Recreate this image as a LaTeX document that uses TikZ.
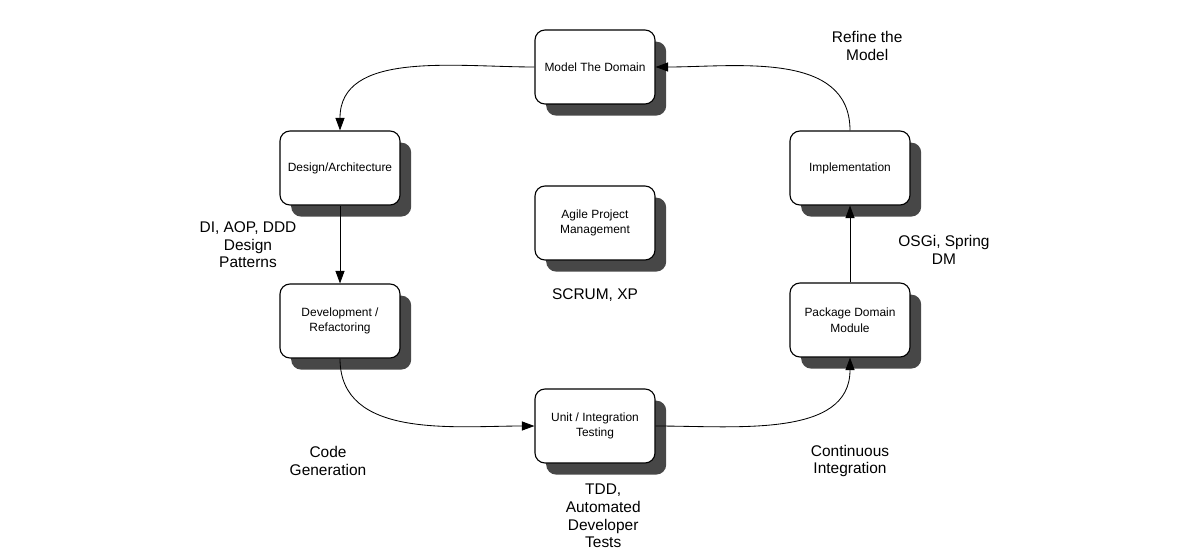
\documentclass[tikz,border=0pt]{standalone}
\usepackage{fontspec}
\setmainfont{Liberation Sans}
\usepackage{tikz}
\usetikzlibrary{arrows.meta,shadows}
\definecolor{shadowgray}{HTML}{474747}

\begin{document}
\begin{tikzpicture}[
  task/.style={draw, thick, fill=white, rounded corners=0.25cm, minimum width=3cm,
    minimum height=1.85cm, align=center, font=\fontsize{8.5}{11}\selectfont,
    drop shadow={shadow xshift=0.28cm, shadow yshift=-0.29cm, fill=shadowgray, opacity=1}},
  note/.style={align=center, font=\fontsize{11}{12.5}\selectfont},
  flow/.style={-{Triangle[length=9pt,width=6.5pt]}, semithick}]
\useasboundingbox (0,0) rectangle (30,-13.775);
\node [task] (model) at (14.875,-1.675) {Model The Domain};
\node [task] (design) at (8.5,-4.2) {Design/Architecture};
\node [task] (agile) at (14.875,-5.575) {Agile Project\\Management};
\node [task] (impl) at (21.25,-4.2) {Implementation};
\node [task] (dev) at (8.5,-8.025) {Development /\\Refactoring};
\node [task] (pkg) at (21.25,-8.0) {Package Domain\\Module};
\node [task] (unit) at (14.875,-10.65) {Unit / Integration\\Testing};
\draw [flow] (model.west) to[out=180,in=90] (design.north);
\draw [flow] (design.south) -- (dev.north);
\draw [flow] (dev.south) to[out=-90,in=180] (unit.west);
\draw [flow] (unit.east) to[out=0,in=-90] (pkg.south);
\draw [flow] (pkg.north) -- (impl.south);
\draw [flow] (impl.north) to[out=90,in=0] (model.east);
\node [note] (refine) at (21.68,-1.15) {Refine the\\Model};
\node [note] (di) at (6.2,-6.12) {DI, AOP, DDD\\Design\\Patterns};
\node [note] (scrum) at (14.875,-7.38) {SCRUM, XP};
\node [note] (osgi) at (23.6,-6.25) {OSGi, Spring\\DM};
\node [note] (codegen) at (8.2,-11.52) {Code\\Generation};
\node [note] (ci) at (21.25,-11.52) {Continuous\\Integration};
\node [note] (tdd) at (15.08,-12.9) {TDD,\\Automated\\Developer\\Tests};
\end{tikzpicture}
\end{document}
